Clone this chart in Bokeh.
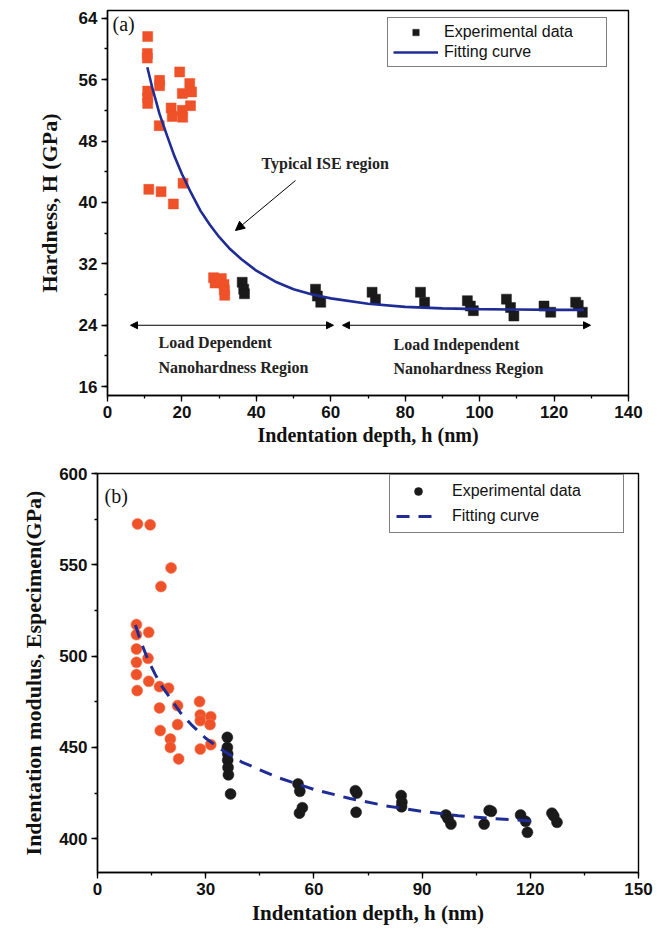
from bokeh.plotting import figure
from bokeh.layouts import column, row
from bokeh.models import (Range1d, FixedTicker, Label, Arrow, NormalHead, Legend, LegendItem)
from bokeh.embed import file_html
from bokeh.resources import INLINE

# ---------------- data: panel (a) hardness ----------------
h_a_red = [10.8, 10.7, 10.7, 14.0, 14.0, 19.4, 22.1, 22.6, 20.1, 10.8, 10.8, 10.8, 22.3, 17.1, 17.4,
           20.1, 20.2, 13.9, 11.1, 14.4, 17.7, 20.3, 28.5, 28.9, 30.6, 31.3, 31.4, 31.5, 29.2]
H_a_red = [61.6, 59.4, 58.8, 55.9, 55.2, 57.0, 55.5, 54.4, 54.2, 54.5, 53.6, 52.9, 52.6, 52.3, 51.2,
           52.0, 51.1, 50.0, 41.7, 41.4, 39.8, 42.5, 30.2, 29.5, 30.1, 29.3, 28.6, 27.9, 29.8]
h_a_blk = [36.2, 36.6, 36.8, 55.9, 56.4, 57.3, 71.1, 72.0, 84.1, 85.2, 96.7, 97.5, 98.3, 107.2, 108.3,
           109.2, 117.3, 119.1, 125.8, 126.5, 127.6]
H_a_blk = [29.6, 28.7, 28.1, 28.7, 27.8, 27.0, 28.3, 27.4, 28.3, 27.0, 27.2, 26.5, 25.9, 27.4, 26.3,
           25.2, 26.5, 25.7, 27.0, 26.6, 25.7]
h_a_fit = [10.7, 12.0, 14.0, 16.0, 18.0, 20.0, 22.5, 25.0, 27.5, 30.0, 33.0, 36.0, 40.0, 45.0, 50.0,
           55.0, 60.0, 70.0, 80.0, 90.0, 100.0, 110.0, 120.0, 128.0]
H_a_fit = [57.6, 55.0, 51.5, 48.7, 46.0, 43.7, 41.2, 38.9, 37.1, 35.5, 33.9, 32.6, 31.1, 29.7, 28.7,
           28.0, 27.5, 26.8, 26.4, 26.2, 26.1, 26.05, 26.0, 26.0]
xt_a = [0, 20, 40, 60, 80, 100, 120, 140]
yt_a = [16, 24, 32, 40, 48, 56, 64]

# ---------------- data: panel (b) modulus ----------------
h_b_red = [11.1, 14.6, 20.4, 17.6, 10.8, 10.8, 14.2, 10.8, 14.0, 10.8, 10.8, 14.2, 17.2, 19.7, 11.0,
           22.2, 17.2, 28.3, 28.5, 31.4, 28.5, 31.2, 22.2, 17.4, 20.2, 20.2, 28.5, 31.4, 22.5]
E_b_red = [572.4, 571.9, 548.3, 538.1, 517.3, 511.8, 513.0, 503.9, 498.8, 496.6, 489.9, 486.2, 483.3, 482.4, 481.1,
           472.9, 471.6, 475.1, 467.8, 466.8, 464.7, 462.5, 462.5, 459.2, 454.6, 450.0, 449.1, 451.5, 443.7]
h_b_blk = [36.0, 36.0, 36.1, 36.1, 36.2, 36.3, 36.9, 55.6, 56.1, 56.8, 56.0, 71.5, 71.9, 71.7, 84.2, 84.4, 84.3,
           96.6, 97.2, 98.0, 107.2, 108.6, 109.2, 117.3, 118.7, 119.2, 126.0, 126.5, 127.4]
E_b_blk = [455.5, 450.0, 446.5, 443.0, 439.0, 435.0, 424.5, 430.0, 426.0, 417.0, 414.0, 426.3, 425.0, 414.5,
           423.6, 420.0, 417.5, 413.0, 411.0, 408.0, 408.0, 415.5, 415.0, 413.0, 409.5, 403.5, 414.0, 412.5, 409.0]
h_b_fit = [10.5, 12.0, 14.0, 16.0, 18.0, 20.0, 23.0, 26.0, 30.0, 35.0, 40.0, 50.0, 60.0, 70.0, 80.0,
           90.0, 100.0, 110.0, 122.0]
E_b_fit = [517.0, 508.0, 498.0, 490.0, 483.0, 477.5, 469.0, 462.5, 455.0, 448.0, 442.0, 433.5, 427.0, 422.0,
           418.0, 415.0, 412.6, 411.0, 409.5]
xt_b = [0, 30, 60, 90, 120, 150]
yt_b = [400, 450, 500, 550, 600]

RED = "#EF5128"
BLK = "#1A1A1A"
BLUE = "#1F2C96"
SERIF = "Liberation Serif"
SANS = "Liberation Sans"

W = 660
# frame geometry (page pixels)
A_H = 450
A_L, A_R, A_T, A_B = 107, 628, 10, 395
B_TOP = 450
B_L, B_R, B_T, B_B = 97, 638, 473, 872
XA, YA = (0, 140), (14.85, 65.0)
XB, YB = (0, 150), (381.5, 600)


def mk_fig(height, L, R, T, B, top, xr, yr):
    p = figure(width=W, height=height, output_backend="svg", toolbar_location=None,
               x_range=Range1d(*xr), y_range=Range1d(*yr),
               min_border_left=L, min_border_right=W - R,
               min_border_top=T - top, min_border_bottom=top + height - B)
    p.grid.visible = False
    p.outline_line_color = "black"
    p.outline_line_width = 1.4
    p.background_fill_color = "white"
    p.border_fill_color = "white"
    for ax in (p.xaxis[0], p.yaxis[0]):
        ax.axis_line_width = 1.4
        ax.major_tick_line_width = 1.3
        ax.minor_tick_line_width = 1.3
        ax.major_tick_out = 6
        ax.major_tick_in = 0
        ax.minor_tick_out = 3
        ax.minor_tick_in = 0
        ax.major_label_text_font = SANS
        ax.major_label_text_font_style = "bold"
        ax.major_label_text_font_size = "17px"
        ax.major_label_text_color = "#111111"
        ax.major_label_standoff = 4
        ax.axis_label_text_font = SERIF
        ax.axis_label_text_font_style = "bold"
        ax.axis_label_text_color = "#111111"
    return p


def px2x(px, L, R, xr):
    return xr[0] + (px - L) / (R - L) * (xr[1] - xr[0])


def px2y(py, T, B, yr):
    return yr[1] - (py - T) / (B - T) * (yr[1] - yr[0])


# ---------------- panel (a) ----------------
pa = mk_fig(A_H, A_L, A_R, A_T, A_B, 0, XA, YA)
pa.xaxis[0].ticker = FixedTicker(ticks=xt_a, minor_ticks=list(range(0, 141, 10)))
pa.yaxis[0].ticker = FixedTicker(ticks=yt_a, minor_ticks=list(range(16, 65, 4)))
pa.xaxis[0].axis_label = "Indentation depth, h (nm)"
pa.xaxis[0].axis_label_text_font_size = "20px"
pa.xaxis[0].axis_label_standoff = 3
pa.yaxis[0].axis_label = "Hardness, H (GPa)"
pa.yaxis[0].axis_label_text_font_size = "22px"
pa.yaxis[0].axis_label_standoff = 14

fxa = lambda px: px2x(px, A_L, A_R, XA)
fya = lambda py: px2y(py, A_T, A_B, YA)

pa.scatter(h_a_red, H_a_red, marker="square", size=10, fill_color=RED, line_color=RED, line_width=0.5)
r_blk_a = pa.scatter(h_a_blk, H_a_blk, marker="square", size=10, fill_color=BLK, line_color=BLK, line_width=0.5)
r_fit_a = pa.line(h_a_fit, H_a_fit, line_color=BLUE, line_width=2.6)

leg_a = Legend(items=[LegendItem(label="Experimental data", renderers=[r_blk_a]),
                      LegendItem(label="Fitting curve", renderers=[r_fit_a])],
               location=(280, 328),
               label_text_font=SANS, label_text_font_size="16px", label_text_color="#111111",
               glyph_width=45, glyph_height=16, label_height=16, label_width=157, label_standoff=6,
               spacing=2, padding=5, margin=0, border_line_color="black", border_line_width=1.2,
               background_fill_alpha=1.0)
pa.add_layout(leg_a)

pa.add_layout(Label(x=fxa(112), y=fya(23), text="(a)", text_font=SERIF, text_font_size="20px",
                    text_align="left", text_baseline="middle", text_color="#111111"))
pa.add_layout(Label(x=fxa(261), y=fya(163), text="Typical ISE region", text_font=SERIF,
                    text_font_style="bold", text_font_size="16px", text_align="left",
                    text_baseline="middle", text_color="#222222"))
pa.add_layout(Arrow(end=NormalHead(size=9, fill_color="black", line_color="black"),
                    x_start=fxa(295), y_start=fya(180), x_end=fxa(235), y_end=fya(230),
                    line_width=1, line_color="black"))
for (x0, x1) in [(130, 333), (342, 590)]:
    pa.add_layout(Arrow(start=NormalHead(size=7, fill_color="black", line_color="black"),
                        end=NormalHead(size=7, fill_color="black", line_color="black"),
                        x_start=fxa(x0), y_start=24, x_end=fxa(x1), y_end=24,
                        line_width=1, line_color="black"))
for txt, px, py in [("Load Dependent", 158, 342), ("Nanohardness Region", 158, 367),
                    ("Load Independent", 393, 344), ("Nanohardness Region", 393, 368)]:
    pa.add_layout(Label(x=fxa(px), y=fya(py), text=txt, text_font=SERIF, text_font_style="bold",
                        text_font_size="16px", text_align="left", text_baseline="middle",
                        text_color="#222222"))

# ---------------- panel (b) ----------------
pb = mk_fig(936 - B_TOP, B_L, B_R, B_T, B_B, B_TOP, XB, YB)
pb.xaxis[0].ticker = FixedTicker(ticks=xt_b, minor_ticks=list(range(0, 151, 15)))
pb.yaxis[0].ticker = FixedTicker(ticks=yt_b, minor_ticks=list(range(400, 601, 25)))
pb.xaxis[0].axis_label = "Indentation depth, h (nm)"
pb.xaxis[0].axis_label_text_font_size = "21px"
pb.xaxis[0].axis_label_standoff = 3
pb.yaxis[0].axis_label = "Indentation modulus, Especimen(GPa)"
pb.yaxis[0].axis_label_text_font_size = "22px"
pb.yaxis[0].axis_label_standoff = 10

fxb = lambda px: px2x(px, B_L, B_R, XB)
fyb = lambda py: px2y(py, B_T, B_B, YB)

pb.scatter(h_b_red, E_b_red, marker="circle", size=11, fill_color=RED, line_color="#F27A5A", line_width=0.6)
r_blk_b = pb.scatter(h_b_blk, E_b_blk, marker="circle", size=11, fill_color=BLK, line_color=BLK, line_width=0.5)
r_fit_b = pb.line(h_b_fit, E_b_fit, line_color=BLUE, line_width=3, line_dash="13 9")

leg_b = Legend(items=[LegendItem(label="Experimental data", renderers=[r_blk_b]),
                      LegendItem(label="Fitting curve", renderers=[r_fit_b])],
               location=(292, B_B - 533),
               label_text_font=SANS, label_text_font_size="16px", label_text_color="#111111",
               glyph_width=44, glyph_height=20, label_height=20, label_width=165, label_standoff=12,
               spacing=5, padding=6, margin=0, border_line_color="black", border_line_width=1.2,
               background_fill_alpha=1.0)
pb.add_layout(leg_b)

pb.add_layout(Label(x=fxb(104), y=fyb(495), text="(b)", text_font=SERIF, text_font_size="20px",
                    text_align="left", text_baseline="middle", text_color="#111111"))

# wrap each panel separately so their frames are not forced to line up
layout = column(row(pa), row(pb), spacing=0)
open("out.html", "w").write(file_html(layout, INLINE))
